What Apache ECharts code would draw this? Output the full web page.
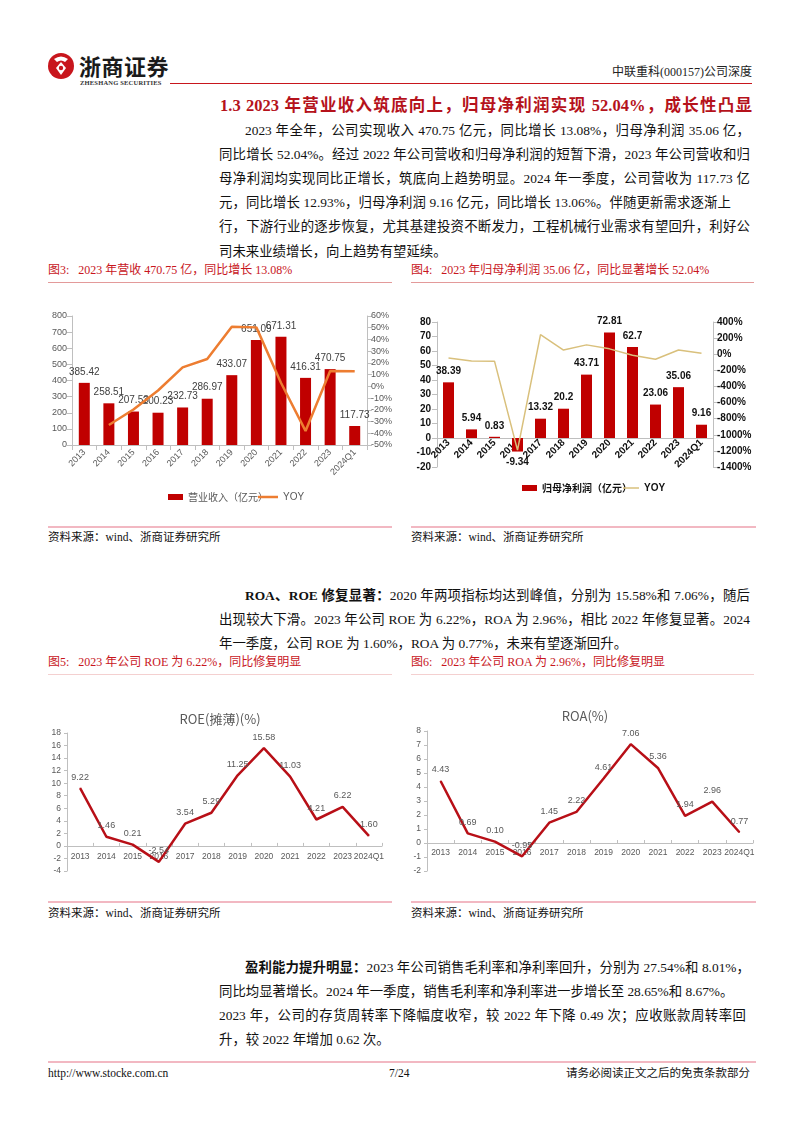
<!DOCTYPE html>
<html><head><meta charset="utf-8">
<script src="https://cdn.jsdelivr.net/npm/echarts@6/dist/echarts.min.js"></script>
<style>
html,body{margin:0;padding:0;background:#fff;}
#page{position:relative;width:802px;height:1133px;overflow:hidden;font-family:"Liberation Serif","Noto Sans CJK SC",serif;color:#111;}
.abs{position:absolute;white-space:nowrap;}
.ln{position:absolute;height:24px;line-height:24px;font-size:13.4px;white-space:nowrap;text-align:justify;text-align-last:justify;}
.last{text-align:left;text-align-last:left;}
.fig{position:absolute;font-size:12px;color:#C8161D;white-space:nowrap;line-height:16px;}
.src{position:absolute;font-size:11.5px;color:#111;white-space:nowrap;line-height:16px;}
.chart{position:absolute;}
b{font-family:"Liberation Serif","Noto Sans CJK SC",serif;font-weight:bold;}
</style></head>
<body><div id="page">
<!-- header -->
<svg class="abs" style="left:46px;top:50px" width="32" height="34" viewBox="0 0 32 34">
<circle cx="15" cy="16" r="13" fill="#C8161D"/>
<path d="M8 9 Q15 4 22 9 L19 12 Q15 9 11 12 Z" fill="#fff"/>
<path d="M15 12 L20 18 L15 25 L10 18 Z" fill="#fff"/>
<circle cx="15" cy="18" r="2.2" fill="#C8161D"/>
</svg>
<div class="abs" style="left:79px;top:51px;font-family:'Noto Sans CJK SC';font-weight:bold;font-size:22px;line-height:28px;color:#1a1a1a;letter-spacing:0.5px">浙商证券</div>
<div class="abs" style="left:80px;top:79px;font-family:'Liberation Serif';font-weight:bold;font-size:6.5px;line-height:8px;color:#333;letter-spacing:0.2px">ZHESHANG SECURITIES</div>
<div class="abs" style="left:612px;top:64px;font-size:12px;line-height:16px;color:#222">中联重科(000157)公司深度</div>
<div class="abs" style="left:170px;top:83px;width:582px;height:1px;background:#C8161D"></div>

<div class="ln" style="left:220px;top:93px;width:532px;font-size:16.5px;font-weight:bold;color:#B5121B;height:26px;line-height:26px">1.3 2023 年营业收入筑底向上，归母净利润实现 52.04%，成长性凸显</div>

<div class="ln" style="left:245px;top:119px;width:505px">2023 年全年，公司实现收入 470.75 亿元，同比增长 13.08%，归母净利润 35.06 亿，</div>
<div class="ln" style="left:219px;top:143px;width:531px">同比增长 52.04%。经过 2022 年公司营收和归母净利润的短暂下滑，2023 年公司营收和归</div>
<div class="ln" style="left:219px;top:167px;width:531px">母净利润均实现同比正增长，筑底向上趋势明显。2024 年一季度，公司营收为 117.73 亿</div>
<div class="ln" style="left:219px;top:191px;width:512px">元，同比增长 12.93%，归母净利润 9.16 亿元，同比增长 13.06%。伴随更新需求逐渐上</div>
<div class="ln" style="left:219px;top:215px;width:531px">行，下游行业的逐步恢复，尤其基建投资不断发力，工程机械行业需求有望回升，利好公</div>
<div class="ln last" style="left:219px;top:240px">司未来业绩增长，向上趋势有望延续。</div>

<div class="fig" style="left:48px;top:262px">图3:&nbsp;&nbsp; 2023 年营收 470.75 亿，同比增长 13.08%</div>
<div class="abs" style="left:48px;top:282px;width:344px;height:1px;background:#E39A9A"></div>
<div class="fig" style="left:411px;top:262px">图4:&nbsp;&nbsp; 2023 年归母净利润 35.06 亿，同比显著增长 52.04%</div>
<div class="abs" style="left:411px;top:282px;width:343px;height:1px;background:#E39A9A"></div>

<div id="c1" class="chart" style="left:40px;top:290px;width:360px;height:225px"></div>
<div id="c2" class="chart" style="left:405px;top:290px;width:360px;height:225px"></div>

<div class="abs" style="left:48px;top:526px;width:344px;height:2px;background:#F2B8C2"></div>
<div class="abs" style="left:411px;top:526px;width:345px;height:2px;background:#F2B8C2"></div>
<div class="src" style="left:48px;top:529px">资料来源：wind、浙商证券研究所</div>
<div class="src" style="left:411px;top:529px">资料来源：wind、浙商证券研究所</div>

<div class="ln" style="left:245px;top:584px;width:505px"><b>ROA、ROE 修复显著：</b>2020 年两项指标均达到峰值，分别为 15.58%和 7.06%，随后</div>
<div class="ln" style="left:219px;top:608px;width:531px">出现较大下滑。2023 年公司 ROE 为 6.22%，ROA 为 2.96%，相比 2022 年修复显著。2024</div>
<div class="ln last" style="left:219px;top:632px">年一季度，公司 ROE 为 1.60%，ROA 为 0.77%，未来有望逐渐回升。</div>

<div class="fig" style="left:48px;top:654px">图5:&nbsp;&nbsp; 2023 年公司 ROE 为 6.22%，同比修复明显</div>
<div class="abs" style="left:48px;top:674px;width:344px;height:1px;background:#F4D0D0"></div>
<div class="fig" style="left:411px;top:654px">图6:&nbsp;&nbsp; 2023 年公司 ROA 为 2.96%，同比修复明显</div>
<div class="abs" style="left:411px;top:674px;width:343px;height:1px;background:#F4D0D0"></div>

<div id="c3" class="chart" style="left:40px;top:690px;width:360px;height:205px"></div>
<div id="c4" class="chart" style="left:405px;top:690px;width:360px;height:205px"></div>

<div class="abs" style="left:48px;top:901px;width:344px;height:2px;background:#F2B8C2"></div>
<div class="abs" style="left:411px;top:901px;width:345px;height:2px;background:#F2B8C2"></div>
<div class="src" style="left:48px;top:905px">资料来源：wind、浙商证券研究所</div>
<div class="src" style="left:411px;top:905px">资料来源：wind、浙商证券研究所</div>

<div class="ln" style="left:245px;top:956px;width:505px"><b>盈利能力提升明显：</b>2023 年公司销售毛利率和净利率回升，分别为 27.54%和 8.01%，</div>
<div class="ln last" style="left:219px;top:980px">同比均显著增长。2024 年一季度，销售毛利率和净利率进一步增长至 28.65%和 8.67%。</div>
<div class="ln" style="left:219px;top:1004px;width:527px">2023 年，公司的存货周转率下降幅度收窄，较 2022 年下降 0.49 次；应收账款周转率回</div>
<div class="ln last" style="left:219px;top:1028px">升，较 2022 年增加 0.62 次。</div>

<div class="abs" style="left:48px;top:1061px;width:708px;height:2px;background:#F2B8C2"></div>
<div class="abs" style="left:48px;top:1065px;font-size:11.5px;line-height:16px">http://www.stocke.com.cn</div>
<div class="abs" style="left:389px;top:1065px;font-size:11.5px;line-height:16px">7/24</div>
<div class="abs" style="left:566px;top:1065px;font-size:11.5px;line-height:16px">请务必阅读正文之后的免责条款部分</div>
</div>
<script>
const years = ['2013','2014','2015','2016','2017','2018','2019','2020','2021','2022','2023','2024Q1'];
const revenue = [385.42,258.51,207.53,200.23,232.73,286.97,433.07,651.09,671.31,416.31,470.75,117.73];
const revenueYoy = [null,-32.9,-19.7,-3.5,16.2,23.3,50.9,50.3,3.1,-38.0,13.08,12.93];
const netProfit = [38.39,5.94,0.83,-9.34,13.32,20.2,43.71,72.81,62.7,23.06,35.06,9.16];
const profitYoy = [-48,-84.5,-86,-1190,243,51.7,116,66.6,-13.9,-63.2,52.04,13.06];
const roe = [9.22,1.46,0.21,-2.54,3.54,5.29,11.25,15.58,11.03,4.21,6.22,1.60];
const roa = [4.43,0.69,0.10,-0.95,1.45,2.22,4.61,7.06,5.36,1.94,2.96,0.77];

const gray = '#595959', axisGray = '#BFBFBF';
const sans = 'Liberation Sans';

// Chart 1
echarts.init(document.getElementById('c1')).setOption({
  animation:false,
  grid:{left:32,right:33,top:26,bottom:70},
  legend:[
    {top:197,left:123,itemWidth:15,itemHeight:6,
     textStyle:{fontSize:10,color:gray,fontFamily:'Noto Sans CJK SC'},
     data:[{name:'营业收入（亿元）',icon:'rect'}]},
    {top:197,left:213,itemWidth:20,itemHeight:2.5,itemGap:2,
     textStyle:{fontSize:10,color:gray,fontFamily:sans},
     data:[{name:'YOY',icon:'rect'}]}
  ],
  xAxis:{type:'category',data:years,
    axisLine:{lineStyle:{color:axisGray}},axisTick:{show:true,lineStyle:{color:axisGray}},
    axisLabel:{rotate:45,interval:0,fontSize:9,color:gray,fontFamily:sans,margin:6}},
  yAxis:[
    {type:'value',min:0,max:800,interval:100,splitLine:{show:false},
     axisLine:{show:true,lineStyle:{color:axisGray}},axisTick:{show:true,lineStyle:{color:axisGray}},
     axisLabel:{fontSize:9,color:gray,fontFamily:sans,margin:5}},
    {type:'value',min:-50,max:60,interval:10,splitLine:{show:false},
     axisLine:{show:true,lineStyle:{color:axisGray}},axisTick:{show:true,lineStyle:{color:axisGray}},
     axisLabel:{fontSize:9,color:gray,fontFamily:sans,formatter:v=>v+'%',margin:4}}
  ],
  series:[
    {name:'营业收入（亿元）',type:'bar',data:revenue,barWidth:11,itemStyle:{color:'#C00000'},
     label:{show:true,position:'top',distance:6,fontSize:10,color:'#404040',fontFamily:sans}},
    {name:'YOY',type:'line',yAxisIndex:1,data:revenueYoy,symbol:'none',
     lineStyle:{color:'#ED7D31',width:2.5},itemStyle:{color:'#ED7D31'},z:3}
  ]
});

// Chart 2
echarts.init(document.getElementById('c2')).setOption({
  animation:false,
  grid:{left:32,right:52,top:32,bottom:48},
  legend:[
    {top:188,left:112,itemWidth:15,itemHeight:6,
     textStyle:{fontSize:10,color:'#111',fontWeight:'bold',fontFamily:'Noto Sans CJK SC'},
     data:[{name:'归母净利润（亿元）',icon:'rect'}]},
    {top:188,left:213,itemWidth:16,itemHeight:1.5,itemGap:2,
     textStyle:{fontSize:10,color:'#111',fontWeight:'bold',fontFamily:sans},
     data:[{name:'YOY',icon:'rect'}]}
  ],
  xAxis:{type:'category',data:years,
    axisLine:{onZero:true,onZeroAxisIndex:0,lineStyle:{color:axisGray}},axisTick:{show:false},
    axisLabel:{rotate:45,interval:0,fontSize:10,fontWeight:'bold',color:'#111',fontFamily:sans,margin:-26}},
  yAxis:[
    {type:'value',min:-20,max:80,interval:10,splitLine:{show:false},
     axisLine:{show:true,lineStyle:{color:axisGray}},axisTick:{show:true,lineStyle:{color:axisGray}},
     axisLabel:{fontSize:10,fontWeight:'bold',color:'#111',fontFamily:sans,margin:6}},
    {type:'value',min:-1400,max:400,interval:200,splitLine:{show:false},
     axisLine:{show:true,lineStyle:{color:axisGray}},axisTick:{show:true,lineStyle:{color:axisGray}},
     axisLabel:{fontSize:10,fontWeight:'bold',color:'#111',fontFamily:sans,formatter:v=>v+'%',margin:4}}
  ],
  series:[
    {name:'归母净利润（亿元）',type:'bar',barWidth:11,itemStyle:{color:'#C00000'},
     data:netProfit.map(v=>v<0?{value:v,label:{position:'bottom'}}:v),
     label:{show:true,position:'top',distance:6,fontSize:10,fontWeight:'bold',color:'#111',fontFamily:sans,
       formatter:p=>String(p.value)}},
    {name:'YOY',type:'line',yAxisIndex:1,data:profitYoy,symbol:'none',
     lineStyle:{color:'#D9C07C',width:1.5},itemStyle:{color:'#D9C07C'},z:3}
  ]
});

function lineChart(id,title,data,min,max,interval,grid,titleTop,labelMargin){
  echarts.init(document.getElementById(id)).setOption({
    animation:false,
    title:{text:title,left:'center',top:titleTop,textStyle:{fontSize:13,fontWeight:'normal',color:gray,fontFamily:'Noto Sans CJK SC'}},
    grid:grid,
    xAxis:{type:'category',data:years,
      axisLine:{onZero:true,onZeroAxisIndex:0,lineStyle:{color:axisGray}},axisTick:{show:true,inside:true,length:3,lineStyle:{color:axisGray}},
      axisLabel:{interval:0,hideOverlap:false,fontSize:8.5,color:gray,fontFamily:sans,margin:labelMargin}},
    yAxis:{type:'value',min:min,max:max,interval:interval,splitLine:{show:false},
      axisLine:{show:true,lineStyle:{color:axisGray}},axisTick:{show:true,length:3,lineStyle:{color:axisGray}},
      axisLabel:{fontSize:8.5,color:gray,fontFamily:sans,margin:6}},
    series:[{type:'line',data:data,symbol:'circle',symbolSize:1,showSymbol:true,
      lineStyle:{color:'#B80F17',width:2.5},itemStyle:{color:'#B80F17'},
      label:{show:true,position:'top',distance:6,fontSize:9,color:gray,fontFamily:sans,
        formatter:p=>Number(p.value).toFixed(2)}}]
  });
}
lineChart('c3','ROE(摊薄)(%)',roe,-4,18,2,{left:27,right:18,top:43,bottom:24},18,-19);
lineChart('c4','ROA(%)',roa,-2,8,1,{left:22,right:12,top:41,bottom:24},15,-23);
</script>
</body></html>
